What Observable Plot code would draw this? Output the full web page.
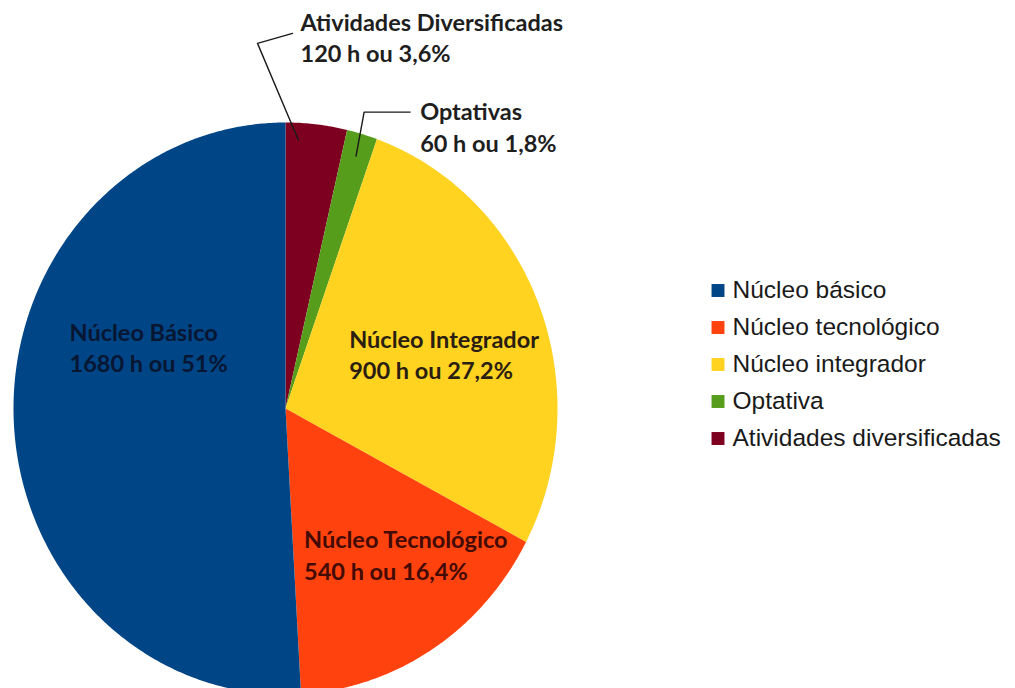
<!DOCTYPE html>
<html><head><meta charset="utf-8">
<script src="https://cdn.jsdelivr.net/npm/d3@7"></script>
<script src="https://cdn.jsdelivr.net/npm/@observablehq/plot@0.6"></script>
<style>
html,body{margin:0;padding:0;background:#fff;}
#chart{position:relative;width:1015px;height:688px;overflow:hidden;background:#fff;}
#chart svg{position:absolute;}
</style></head><body><div id="chart"></div>
<script>
// ---- data ----
const categories = ["Núcleo básico", "Núcleo tecnológico", "Núcleo integrador", "Optativa", "Atividades diversificadas"];
const hours = [1680, 540, 900, 60, 120];
const sliceTitles = ["Núcleo Básico", "Núcleo Tecnológico", "Núcleo Integrador", "Optativas", "Atividades Diversificadas"];
const percentLabels = ["51%", "16,4%", "27,2%", "1,8%", "3,6%"];
const colors = ["#004586", "#ff420e", "#ffd320", "#579d1c", "#7e0021"];
// clockwise order from 12 o'clock
const clockwiseOrder = ["Atividades diversificadas", "Optativa", "Núcleo integrador", "Núcleo tecnológico", "Núcleo básico"];

// ---- layout (pixels) ----
const W = 1015, H = 688;
const CX = 285, CY = 408, RX = 272, RY = 286;
const TEXT_SHIFT = -7;
const labelLayout = {
  "Núcleo básico":            {r: 0.5, dx: -80, dy: -87, fill: "#081632"},
  "Núcleo tecnológico":       {r: 0.5, dx: -55, dy: 4,   fill: "#430b05"},
  "Núcleo integrador":        {r: 0.5, dx: -63, dy: -24, fill: "#2a1e12"},
  "Optativa":                 {r: 1.0, dx: 58,  dy: -29, fill: "#1e1e1e"},
  "Atividades diversificadas":{r: 1.0, dx: -16, dy: -109, fill: "#1e1e1e"}
};
const leaderLayout = {
  "Atividades diversificadas": {t: 0.22, r: 0.94, bends: [[-43, 28], [-8, 18]]},
  "Optativa": {t: 0.5, r: 0.92, bends: [[-56, 7], [-10, 7]]}
};

// ---- geometry from data ----
const total = d3.sum(hours);
const slices = [];
let acc = 0;
for (const key of clockwiseOrder) {
  const i = categories.indexOf(key);
  const a0 = acc / total * 2 * Math.PI;
  acc += hours[i];
  const a1 = acc / total * 2 * Math.PI;
  slices.push({key, i, a0, a1, mid: (a0 + a1) / 2});
}
const polar = (a, r) => ({x: r * Math.sin(a), y: r * Math.cos(a)});

const sectorPoints = [];
for (const s of slices) {
  sectorPoints.push({key: s.key, ...polar(0, 0)});
  const n = Math.max(4, Math.ceil((s.a1 - s.a0) / (Math.PI / 360)));
  for (let k = 0; k <= n; ++k) sectorPoints.push({key: s.key, ...polar(s.a0 + (s.a1 - s.a0) * k / n, 1)});
  sectorPoints.push({key: s.key, ...polar(0, 0)});
}

const labelMarks = slices.map(s => {
  const L = labelLayout[s.key];
  const p = polar(s.mid, L.r);
  return Plot.text([{...p, text: `${sliceTitles[s.i]}\n${hours[s.i]} h ou ${percentLabels[s.i]}`}], {
    x: "x", y: "y", text: "text", dx: L.dx, dy: L.dy + TEXT_SHIFT,
    textAnchor: "start", lineAnchor: "top", lineHeight: 1.34,
    fontSize: 23.5, fontWeight: "bold", fontFamily: "Lato, 'Open Sans', sans-serif",
    fill: L.fill
  });
});

// leader lines: end at slice, bends relative to label origin (px -> data units)
const leaderPoints = [];
for (const s of slices) {
  const LL = leaderLayout[s.key];
  if (!LL) continue;
  const L = labelLayout[s.key];
  const origin = polar(s.mid, L.r);
  const end = polar(s.a0 + (s.a1 - s.a0) * LL.t, LL.r);
  leaderPoints.push({key: s.key, ...end});
  for (const [bx, by] of LL.bends) {
    leaderPoints.push({key: s.key, x: origin.x + (L.dx + bx) / RX, y: origin.y - (L.dy + by) / RY});
  }
}

const pie = Plot.plot({
  width: W, height: H,
  margin: 0,
  x: {domain: [-CX / RX, (W - CX) / RX], range: [0, W], axis: null},
  y: {domain: [-(H - CY) / RY, CY / RY], range: [H, 0], axis: null},
  color: {domain: categories, range: colors},
  style: {background: "#fff"},
  marks: [
    Plot.line(sectorPoints, {x: "x", y: "y", z: "key", fill: "key", stroke: "none", curve: "linear"}),
    Plot.line(leaderPoints, {x: "x", y: "y", z: "key", stroke: "#1a1a1a", strokeWidth: 1.4}),
    ...labelMarks
  ]
});
pie.style.left = "0px"; pie.style.top = "0px";

const legend = Plot.plot({
  width: 315, height: 200,
  margin: 0,
  y: {type: "point", domain: categories, range: [22, 170], padding: 0, axis: null},
  color: {domain: categories, range: colors},
  style: {background: "transparent", overflow: "visible"},
  marks: [
    Plot.dot(categories, {y: d => d, fill: d => d, symbol: "square", r: 7.3, frameAnchor: "left", dx: 17.5, stroke: "none"}),
    Plot.text(categories, {y: d => d, text: d => d, frameAnchor: "left", dx: 32, textAnchor: "start",
      fontSize: 24.5, fontFamily: "'Liberation Sans', Arial, sans-serif", fill: "#1a1a1a"})
  ]
});
legend.style.left = "700px"; legend.style.top = "268px";

const chart = document.getElementById("chart");
chart.appendChild(pie);
chart.appendChild(legend);
</script>
</body></html>
